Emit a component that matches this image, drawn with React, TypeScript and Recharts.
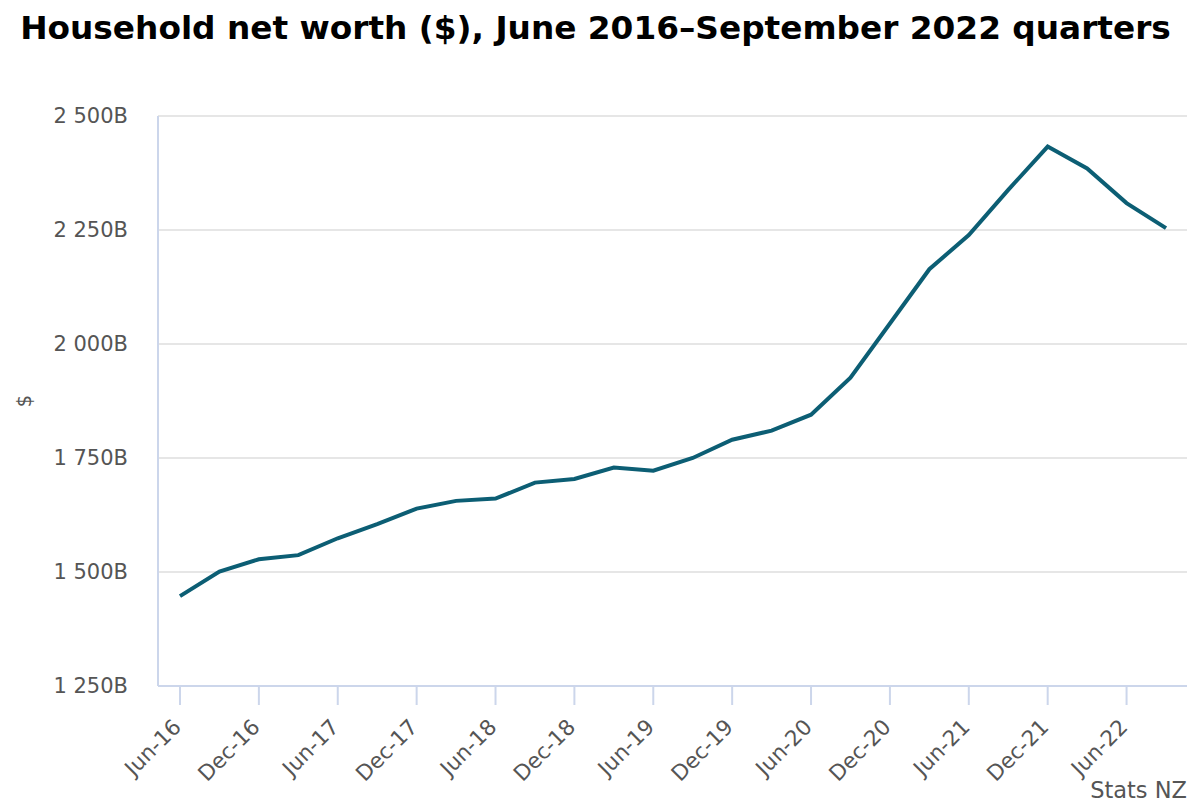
import React from "react";
import { LineChart, Line, XAxis, YAxis, CartesianGrid, Customized } from "recharts";

// quarters, Jun-16 .. Sep-22
const quarters = [
  "Jun-16", "Sep-16", "Dec-16", "Mar-17", "Jun-17", "Sep-17", "Dec-17", "Mar-18",
  "Jun-18", "Sep-18", "Dec-18", "Mar-19", "Jun-19", "Sep-19", "Dec-19", "Mar-20",
  "Jun-20", "Sep-20", "Dec-20", "Mar-21", "Jun-21", "Sep-21", "Dec-21", "Mar-22",
  "Jun-22", "Sep-22",
];

// household net worth, $ billions
const netWorth = [
  1447, 1501, 1528, 1537, 1574, 1605, 1639, 1656,
  1661, 1696, 1704, 1729, 1722, 1750, 1790, 1810,
  1845, 1926, 2045, 2164, 2239, 2338, 2433, 2385,
  2309, 2254,
];

const yTicks = [1250, 1500, 1750, 2000, 2250, 2500];

const FONT = "'DejaVu Sans', Verdana, sans-serif";
const LINE = "#0c5e74";
const LABEL = "#555555";
const AXIS = "#ccd6eb";

const data = quarters.map((q, i) => ({ q, value: netWorth[i] }));

const fmtB = (v: number) => {
  const s = String(v);
  return (s.length > 3 ? s.slice(0, s.length - 3) + " " + s.slice(-3) : s) + "B";
};

function XTick({ x, y, payload }: any) {
  return (
    <g transform={`translate(${x - 3},${y + 12})`}>
      <text
        textAnchor="end"
        transform="rotate(-45)"
        dy="0.35em"
        fontSize={21.5}
        fontFamily={FONT}
        fill={LABEL}
      >
        {payload.value}
      </text>
    </g>
  );
}

function Extras() {
  return (
    <g fontFamily={FONT}>
      <text x={24} y={401} transform="rotate(-90, 24, 401)" textAnchor="middle" dy="0.35em" fontSize={20} fill={LABEL}>
        $
      </text>
      <text x={1187} y={798} textAnchor="end" fontSize={22.5} fill={LABEL}>
        Stats NZ
      </text>
    </g>
  );
}

export default function App() {
  return (
    <div style={{ position: "absolute", left: 0, top: 0, width: 1199, height: 804, background: "#fff" }}>
      <div
        style={{
          position: "absolute",
          left: -4,
          top: 8,
          width: 1199,
          textAlign: "center",
          fontFamily: FONT,
          fontWeight: "bold",
          fontSize: 32.75,
          lineHeight: "40px",
          color: "#000",
          whiteSpace: "nowrap",
        }}
      >
        Household net worth ($), June 2016–September 2022 quarters
      </div>
      <LineChart
        width={1199}
        height={804}
        data={data}
        margin={{ top: 116, right: 12, bottom: 18, left: 58 }}
        style={{ position: "absolute", left: 0, top: 0 }}
      >
        <CartesianGrid vertical={false} stroke="#e6e6e6" strokeWidth={2} />
        <XAxis
          dataKey="q"
          interval={1}
          height={100}
          padding={{ left: 22, right: 21 }}
          axisLine={{ stroke: AXIS, strokeWidth: 2 }}
          tickLine={{ stroke: AXIS, strokeWidth: 2 }}
          tickSize={19}
          tickMargin={6}
          tick={<XTick />}
        />
        <YAxis
          width={100}
          domain={[1250, 2500]}
          ticks={yTicks}
          tickFormatter={fmtB}
          axisLine={{ stroke: AXIS, strokeWidth: 2 }}
          tickLine={false}
          tickSize={0}
          tickMargin={30}
          tick={{ fontSize: 21, fontFamily: FONT, fill: LABEL }}
        />
        <Line
          type="linear"
          dataKey="value"
          stroke={LINE}
          strokeWidth={4}
          dot={false}
          activeDot={false}
          isAnimationActive={false}
        />
        <Customized component={<Extras />} />
      </LineChart>
    </div>
  );
}
